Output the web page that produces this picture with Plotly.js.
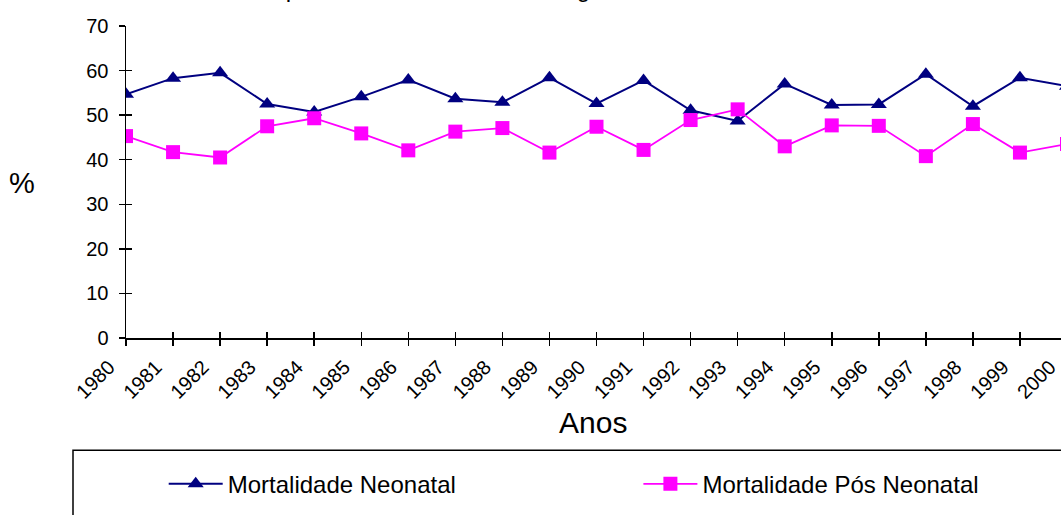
<!DOCTYPE html>
<html>
<head>
<meta charset="utf-8">
<script src="https://cdn.plot.ly/plotly-3.0.1.min.js"></script>
<style>
  html, body { margin: 0; padding: 0; background: #ffffff; overflow: hidden; }
  #chart { width: 1075px; height: 515px; }
</style>
</head>
<body>
<div id="chart"></div>
<script>
// ---- data ----
const years = [1980, 1981, 1982, 1983, 1984, 1985, 1986, 1987, 1988, 1989, 1990,
               1991, 1992, 1993, 1994, 1995, 1996, 1997, 1998, 1999, 2000];
const tickLabels = years.map(String);
const neonatal = [54.7, 58.3, 59.5, 52.5, 50.7, 54.1, 57.9, 53.7, 52.9, 58.4, 52.6,
                  57.8, 51.1, 48.7, 57.0, 52.3, 52.4, 59.2, 52.0, 58.4, 56.5];
const posNeonatal = [45.3, 41.7, 40.5, 47.5, 49.3, 45.9, 42.1, 46.3, 47.1, 41.6, 47.4,
                     42.2, 48.9, 51.3, 43.0, 47.7, 47.6, 40.8, 48.0, 41.6, 43.5];
const seriesNames = ["Mortalidade Neonatal", "Mortalidade Pós Neonatal"];
const yTicks = [0, 10, 20, 30, 40, 50, 60, 70];
const titleText = "Mortalidade neonatal e pós neonatal, Curitiba e Região, PR, 1980-2000";
const xTitle = "Anos";
const yTitle = "%";

const FONT = "Liberation Sans, Arial, sans-serif";
const W = 1075, H = 515, L = 126, PW = W - L;

const traces = [
  {
    x: years, y: neonatal, name: seriesNames[0], type: "scatter", mode: "lines+markers",
    line: { color: "#000080", width: 2 },
    marker: { symbol: "triangle-up", size: 14, color: "#000080" },
    legend: "legend"
  },
  {
    x: years, y: posNeonatal, name: seriesNames[1], type: "scatter", mode: "lines+markers",
    line: { color: "#FF00FF", width: 1.8 },
    marker: { symbol: "square", size: 14, color: "#FF00FF" },
    legend: "legend2"
  },
  { x: [], y: [], xaxis: "x2", yaxis: "y2", showlegend: false, hoverinfo: "skip" }
];

const xRange = [1980, 1980 + PW / 47.05];
const axisCommon = {
  showgrid: false, zeroline: false, linecolor: "#000000", linewidth: 1.5,
  tickcolor: "#000000", tickwidth: 1.5, ticklen: 6
};
const legendCommon = {
  orientation: "h", xanchor: "left", y: -0.4686, yanchor: "middle",
  font: { family: FONT, size: 24, color: "#000000" },
  itemwidth: 54, bgcolor: "rgba(0,0,0,0)", borderwidth: 0
};

const layout = {
  width: W, height: H,
  margin: { l: L, r: 0, t: 25.5, b: 177.3, autoexpand: false },
  paper_bgcolor: "#ffffff", plot_bgcolor: "#ffffff",
  font: { family: FONT, color: "#000000" },
  showlegend: true,
  xaxis: Object.assign({}, axisCommon, {
    range: xRange, tickmode: "array", tickvals: years, ticktext: tickLabels,
    tickangle: -45, ticks: "outside", showline: true,
    ticklabelstandoff: 2, ticklabelshift: -17,
    tickfont: { family: FONT, size: 20, color: "#000000" }, automargin: false
  }),
  yaxis: Object.assign({}, axisCommon, {
    range: [0, 70], tickmode: "array", tickvals: yTicks, ticks: "outside", showline: true,
    ticklabelstandoff: 6,
    tickfont: { family: FONT, size: 20, color: "#000000" }, automargin: false
  }),
  xaxis2: Object.assign({}, axisCommon, {
    range: xRange, overlaying: "x", anchor: "y2", side: "bottom",
    tickmode: "array", tickvals: years, ticks: "inside", showline: false,
    showticklabels: false
  }),
  yaxis2: Object.assign({}, axisCommon, {
    range: [0, 70], overlaying: "y", anchor: "x2", side: "left",
    tickmode: "array", tickvals: yTicks, ticks: "inside", showline: false,
    showticklabels: false
  }),
  legend: Object.assign({}, legendCommon, { x: (163.7 - L) / PW }),
  legend2: Object.assign({}, legendCommon, { x: (638.4 - L) / PW }),
  shapes: [
    { type: "rect", xref: "paper", yref: "paper",
      x0: (73 - L) / PW, x1: 1.2, y0: -0.3597, y1: -0.8,
      line: { color: "#000000", width: 1.5 }, fillcolor: "rgba(0,0,0,0)", layer: "below" }
  ],
  annotations: [
    { text: titleText, xref: "paper", yref: "paper", x: (33 - L) / PW, xanchor: "left",
      y: 1.072, yanchor: "bottom", showarrow: false,
      font: { family: FONT, size: 24, color: "#000000" } },
    { text: xTitle, xref: "paper", yref: "paper", x: (593 - L) / PW, xanchor: "center",
      y: -0.27, yanchor: "middle", showarrow: false,
      font: { family: FONT, size: 30, color: "#000000" } },
    { text: yTitle, xref: "paper", yref: "paper", x: (22 - L) / PW, xanchor: "center",
      y: 0.498, yanchor: "middle", showarrow: false,
      font: { family: FONT, size: 29, color: "#000000" } }
  ]
};

Plotly.newPlot("chart", traces, layout, { displayModeBar: false, staticPlot: true });
</script>
</body>
</html>
